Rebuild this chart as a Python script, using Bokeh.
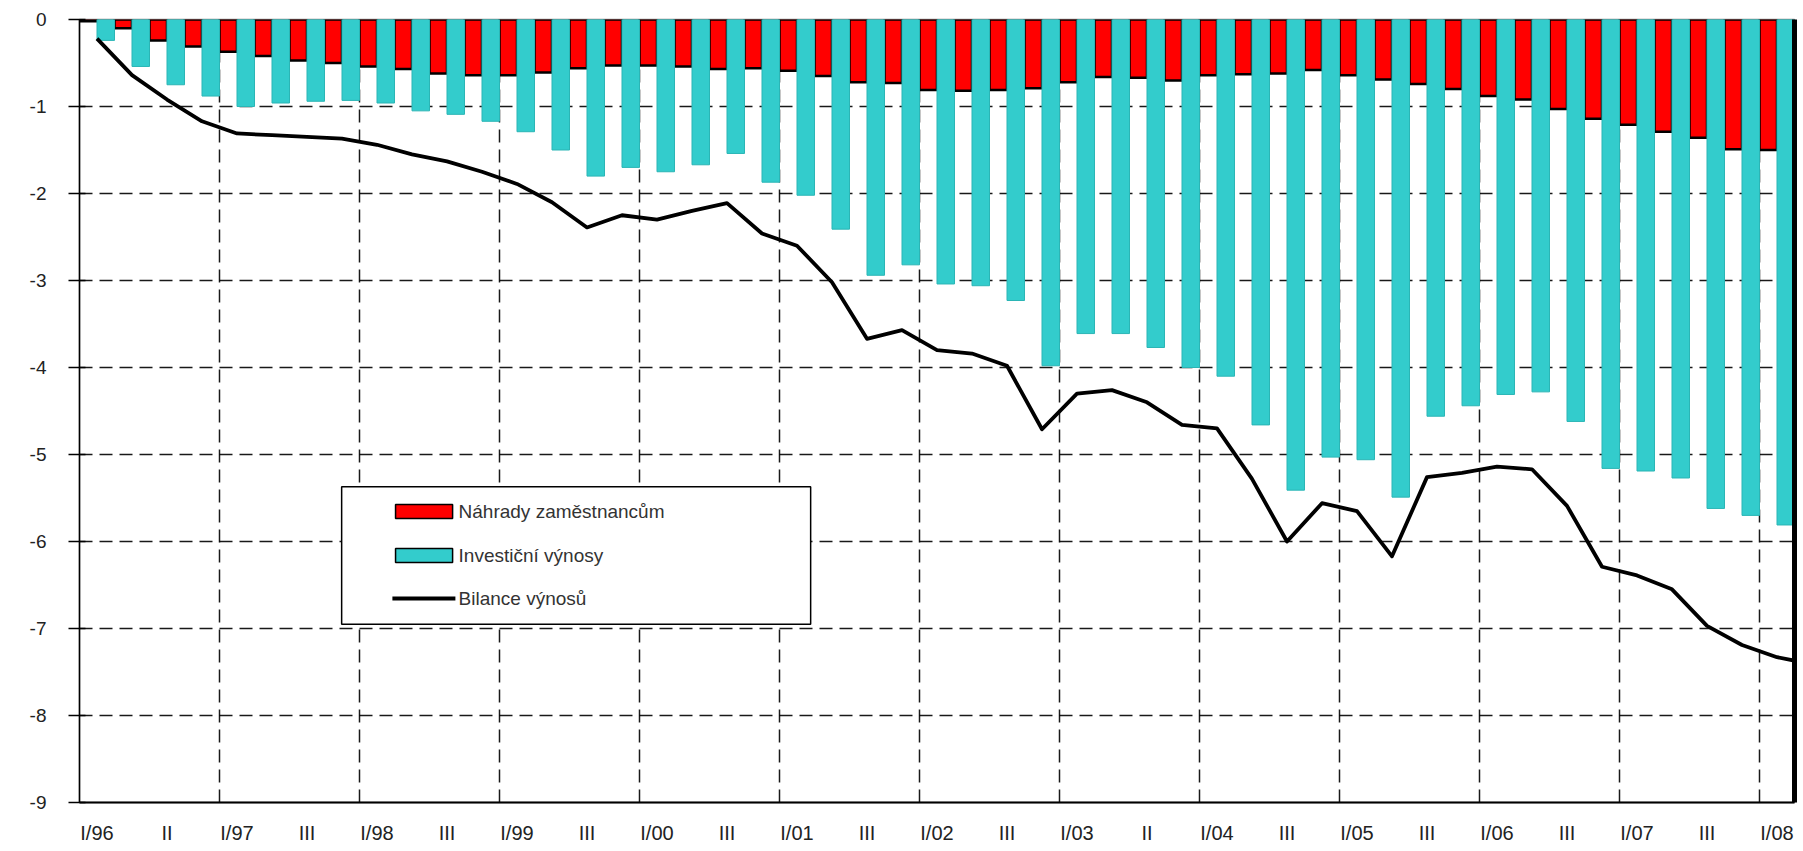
from bokeh.plotting import figure
from bokeh.models import FixedTicker, Range1d, ColumnDataSource, LinearAxis
from bokeh.core.properties import value
from bokeh.embed import file_html
from bokeh.resources import INLINE

# ---- data -------------------------------------------------------------
years = ["96", "97", "98", "99", "00", "01", "02", "03", "04", "05", "06", "07"]
quarter_names = ["I", "II", "III", "IV"]
quarters = [f"{q}/{y}" for y in years for q in quarter_names] + ["I/08"]

nahrady = [-0.02, -0.10, -0.24, -0.31, -0.37, -0.42, -0.47, -0.50, -0.54, -0.57,
           -0.62, -0.64, -0.64, -0.61, -0.56, -0.53, -0.53, -0.54, -0.57, -0.56,
           -0.59, -0.65, -0.72, -0.73, -0.81, -0.82, -0.81, -0.79, -0.72, -0.66,
           -0.67, -0.70, -0.64, -0.63, -0.62, -0.58, -0.64, -0.69, -0.74, -0.80,
           -0.88, -0.92, -1.03, -1.14, -1.21, -1.29, -1.36, -1.49, -1.50]

investicni = [-0.24, -0.54, -0.75, -0.88, -1.00, -0.96, -0.94, -0.93, -0.96, -1.05,
              -1.09, -1.17, -1.29, -1.50, -1.80, -1.70, -1.75, -1.67, -1.54, -1.87,
              -2.02, -2.41, -2.94, -2.82, -3.04, -3.06, -3.23, -3.98, -3.61, -3.61,
              -3.77, -4.00, -4.10, -4.66, -5.41, -5.03, -5.06, -5.49, -4.56, -4.44,
              -4.31, -4.28, -4.62, -5.16, -5.19, -5.27, -5.62, -5.70, -5.81]

# the balance line runs one quarter further (II/08), clipped at the plot edge
line_quarters = quarters + ["II/08"]
bilance = [-0.22, -0.64, -0.92, -1.17, -1.31, -1.33, -1.35, -1.37, -1.44, -1.55,
           -1.63, -1.75, -1.89, -2.10, -2.39, -2.25, -2.30, -2.20, -2.11, -2.46,
           -2.60, -3.02, -3.67, -3.57, -3.80, -3.84, -3.98, -4.71, -4.30, -4.26,
           -4.40, -4.66, -4.70, -5.28, -6.00, -5.56, -5.65, -6.17, -5.26, -5.21,
           -5.14, -5.17, -5.59, -6.29, -6.39, -6.55, -6.97, -7.19, -7.33, -7.41]

tick_labels = ["I/96", "II", "I/97", "III", "I/98", "III", "I/99", "III", "I/00", "III",
               "I/01", "III", "I/02", "III", "I/03", "II", "I/04", "III", "I/05", "III",
               "I/06", "III", "I/07", "III", "I/08"]

y_ticks = [0, -1, -2, -3, -4, -5, -6, -7, -8, -9]
series_names = ["Náhrady zaměstnancům", "Investiční výnosy", "Bilance výnosů"]

# ---- figure -----------------------------------------------------------
n = len(quarters)
xs = list(range(n))
src = ColumnDataSource(dict(
    x=xs,
    xr=[i - 0.25 for i in xs],
    xt=[i + 0.25 for i in xs],
    nahrady=nahrady,
    investicni=investicni,
    q=quarters,
))
lsrc = ColumnDataSource(dict(x=list(range(len(line_quarters))), bilance=bilance,
                             q=line_quarters))

p = figure(frame_width=1715, frame_height=783,
           x_range=Range1d(-0.5, n - 0.5), y_range=Range1d(-9, 0),
           output_backend="svg", toolbar_location=None,
           min_border_left=79, min_border_top=19, min_border_right=6,
           min_border_bottom=40)
p.background_fill_color = "white"
p.border_fill_color = "white"
p.outline_line_color = "#8a8a8a"
p.outline_line_width = 1.5

# grids
p.xgrid.ticker = FixedTicker(ticks=[i - 0.5 for i in range(4, n, 4)])
p.ygrid.ticker = FixedTicker(ticks=[t for t in y_ticks if t not in (0, -9)])
for g in (p.xgrid, p.ygrid):
    g.grid_line_color = "black"
    g.grid_line_width = 1.5
    g.grid_line_dash = "13 7"
    g.grid_line_alpha = 0.9

# bars
p.vbar(x="xr", top="nahrady", bottom=0, width=0.5, source=src,
       fill_color="#FF0000", line_color="black", line_width=2.5)
p.vbar(x="xt", top="investicni", bottom=0, width=0.5, source=src,
       fill_color="#33CCCC", line_color="#2BB5B5", line_width=1)
# line
p.line(x="x", y="bilance", source=lsrc, line_color="black", line_width=3.8,
       line_join="round")

# axes
xa = p.xaxis[0]
xa.ticker = FixedTicker(ticks=list(range(0, n, 2)))
xa.major_label_overrides = {i * 2: lab for i, lab in enumerate(tick_labels)}
xa.major_tick_line_color = None
xa.minor_tick_line_color = None
xa.axis_line_color = "black"
xa.axis_line_width = 2
xa.major_label_standoff = 13
xa.major_label_text_font = "Liberation Sans"
xa.major_label_text_font_size = "20px"
xa.major_label_text_color = "#222222"

ya = p.yaxis[0]
ya.ticker = FixedTicker(ticks=y_ticks)
ya.major_label_overrides = {t: str(t) for t in y_ticks}
ya.major_tick_in = 6
ya.major_tick_out = 11
ya.major_tick_line_width = 1.5
ya.major_tick_line_color = "black"
ya.minor_tick_line_color = None
ya.axis_line_color = "black"
ya.axis_line_width = 1.5
ya.major_label_standoff = 22
ya.major_label_text_font = "Liberation Sans"
ya.major_label_text_font_size = "19px"
ya.major_label_text_color = "#222222"

ra = LinearAxis(axis_line_width=5, axis_line_color="black",
                major_tick_line_color=None, minor_tick_line_color=None,
                major_label_text_font_size="0px", major_label_standoff=0,
                ticker=FixedTicker(ticks=[]))
p.add_layout(ra, "right")

# ---- legend (drawn in data units so the box matches the reference) ----
lx0, lx1, ly0, ly1 = 6.99, 20.39, -6.95, -5.37
p.quad(left=[lx0], right=[lx1], bottom=[ly0], top=[ly1],
       fill_color="white", line_color="black", line_width=1.5)
rows_y = [-5.655, -6.161, -6.655]
p.quad(left=[8.53], right=[10.16], top=[rows_y[0] + 0.08], bottom=[rows_y[0] - 0.08],
       fill_color="#FF0000", line_color="black", line_width=1.5)
p.quad(left=[8.53], right=[10.16], top=[rows_y[1] + 0.08], bottom=[rows_y[1] - 0.08],
       fill_color="#33CCCC", line_color="black", line_width=1.5)
p.segment(x0=[8.44], x1=[10.24], y0=[rows_y[2]], y1=[rows_y[2]],
          line_color="black", line_width=4)
p.text(x=[10.33] * 3, y=rows_y, text=series_names,
       text_font=value("Liberation Sans"), text_font_size="19px",
       text_color="#333333", text_baseline="middle", text_align="left")

open("out.html", "w").write(file_html(p, INLINE))
